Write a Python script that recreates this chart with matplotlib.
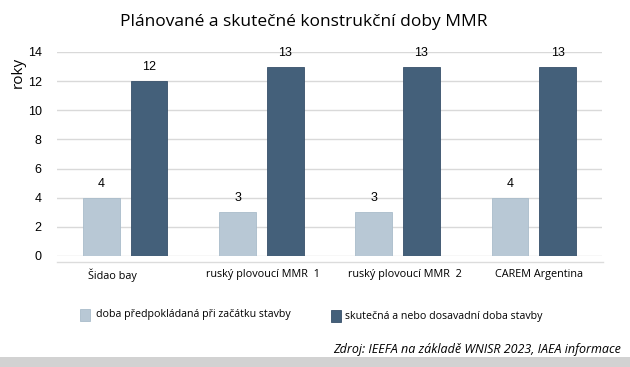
import numpy as np
import matplotlib.pyplot as plt
from matplotlib.patches import Rectangle

categories = ["Šidao bay", "ruský plovoucí MMR  1", "ruský plovoucí MMR  2", "CAREM Argentina"]
planned = [4, 3, 3, 4]
actual = [12, 13, 13, 13]
series_names = ["doba předpokládaná při začátku stavby", "skutečná a nebo dosavadní doba stavby"]
light = "#b8c8d5"
dark = "#44607a"

plt.rcParams['font.family'] = ['Open Sans', 'DejaVu Sans']

fig = plt.figure(figsize=(6.3, 3.67), dpi=100)
ax = fig.add_axes([57 / 630, 1 - 256 / 367, 545 / 630, 204 / 367])

x = np.arange(len(categories))
w = 0.27
off = 0.175
b1 = ax.bar(x - off, planned, w, color=light, edgecolor="#a9bccb", linewidth=0.6)
b2 = ax.bar(x + off, actual, w, color=dark, edgecolor="#37506a", linewidth=0.6)
for bars, vals in ((b1, planned), (b2, actual)):
    for r, v in zip(bars, vals):
        ax.text(r.get_x() + r.get_width() / 2, v + 0.55, str(v), ha="center", va="bottom",
                fontsize=9, family="Liberation Sans")

ax.set_xlim(-0.5, len(categories) - 0.5)
ax.set_ylim(0, 14)
ax.set_yticks(range(0, 15, 2))
ax.set_yticklabels([str(v) for v in range(0, 15, 2)], family="Liberation Sans", fontsize=9)
ax.tick_params(axis="y", length=0, pad=11)
ax.set_xticks(x + np.array([-0.09, 0.01, 0.05, 0.04]))
ax.set_xticklabels(categories, fontsize=7.8)
ax.tick_params(axis="x", length=0, pad=9)
ax.grid(axis="y", color="#d9d9d9", linewidth=1)
ax.set_axisbelow(True)
for s in ax.spines.values():
    s.set_visible(False)

fig.text(18 / 630, 1 - 72 / 367, "roky", rotation=90, ha="center", va="center", fontsize=11)
fig.text(304 / 630, 1 - 22 / 367, "Plánované a skutečné konstrukční doby MMR", ha="center", va="center",
         fontsize=12.5)

# legend
fig.patches.append(Rectangle((80 / 630, 1 - 321 / 367), 10 / 630, 12 / 367, transform=fig.transFigure,
                             facecolor=light, edgecolor="#a9bccb", linewidth=0.6))
fig.text(96 / 630, 1 - 315 / 367, series_names[0], ha="left", va="center", fontsize=7.7)
fig.patches.append(Rectangle((331 / 630, 1 - 322 / 367), 10 / 630, 12 / 367, transform=fig.transFigure,
                             facecolor=dark, edgecolor="#37506a", linewidth=0.6))
fig.text(345 / 630, 1 - 316 / 367, series_names[1], ha="left", va="center", fontsize=7.7)

fig.text(621 / 630, 1 - 349 / 367, "Zdroj: IEEFA na základě WNISR 2023, IAEA informace", ha="right",
         va="center", fontsize=9, style="italic")

# grey strip at bottom and line under the plot
fig.patches.append(Rectangle((0, 0), 1, 10 / 367, transform=fig.transFigure, facecolor="#d2d2d2",
                             edgecolor="none"))
fig.lines.append(plt.Line2D([57 / 630, 603 / 630], [1 - 262 / 367] * 2, transform=fig.transFigure,
                            color="#dcdcdc", linewidth=1))

fig.savefig("out.png", dpi=100)
